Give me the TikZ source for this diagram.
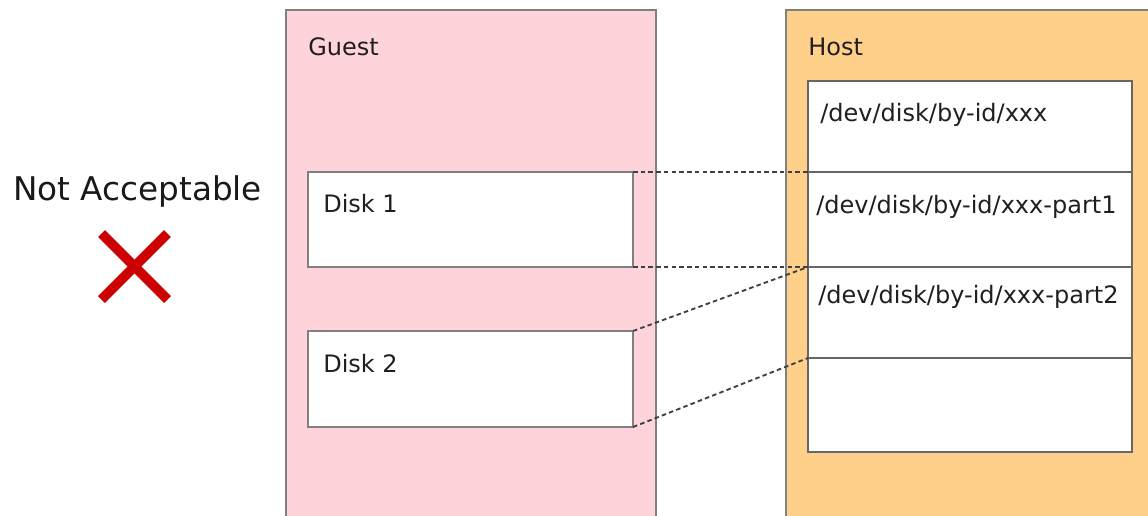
\documentclass[tikz,border=0pt]{standalone}
\usepackage{fontspec}
\setmainfont{DejaVu Sans}
\definecolor{guestpink}{RGB}{255,211,218}
\definecolor{hostorange}{RGB}{255,208,138}
\definecolor{xred}{RGB}{204,0,0}
\definecolor{edgegray}{RGB}{128,128,128}
\begin{document}
\begin{tikzpicture}[x=0.75pt,y=-0.75pt,
  area/.style={draw=edgegray, line width=0.9pt, inner sep=0pt, outer sep=0pt, anchor=north west},
  box/.style={draw=edgegray, line width=1.1pt, fill=white, inner sep=0pt, outer sep=0pt, anchor=north west},
  part/.style={box, draw=black!60, line width=1.4pt},
  lbl/.style={anchor=base west, inner sep=0pt, font=\fontsize{18}{21}\selectfont, text=black!88},
  link/.style={draw=black!75, dash pattern=on 3.4pt off 2.4pt, line width=1.4pt},
  cross/.style={draw=xred, line width=7.2pt}]
\useasboundingbox (0,0) rectangle (1148,515);
\clip (0,0) rectangle (1148,515);
% areas
\node[area, fill=guestpink, minimum width=277.5pt, minimum height=390pt] (guest) at (286,10) {};
\node[area, fill=hostorange, minimum width=288pt, minimum height=390pt] (host) at (786,10) {};
\node[lbl] (guestlbl) at (308,55) {Guest};
\node[lbl] (hostlbl) at (808,55) {Host};
% guest disks
\node[box, minimum width=243.75pt, minimum height=71.25pt] (d1) at (308,172) {};
\node[box, minimum width=243.75pt, minimum height=72pt] (d2) at (308,331) {};
\node[lbl] (d1lbl) at (323,212) {Disk 1};
\node[lbl] (d2lbl) at (323,372) {Disk 2};
% host partitions
\node[part, minimum width=243pt, minimum height=68.25pt] (p1) at (808,81) {};
\node[part, minimum width=243pt, minimum height=71.25pt] (p2) at (808,172) {};
\node[part, minimum width=243pt, minimum height=68.25pt] (p3) at (808,267) {};
\node[part, minimum width=243pt, minimum height=70.5pt] (p4) at (808,358) {};
\node[lbl] (p1lbl) at (820,121) {/dev/disk/by-id/xxx};
\node[lbl] (p2lbl) at (816,213) {/dev/disk/by-id/xxx-part1};
\node[lbl] (p3lbl) at (818,303) {/dev/disk/by-id/xxx-part2};
% links
\draw[link] (d1.north east) -- (p2.north west);
\draw[link] (d1.south east) -- (p3.north west);
\draw[link] (d2.north east) -- (p3.north west);
\draw[link] (d2.south east) -- (p4.north west);
% verdict
\node[anchor=base, inner sep=0pt, font=\fontsize{24.5}{28}\selectfont, text=black!90] (verdict) at (137.5,200) {Not Acceptable};
\coordinate (xc) at (134.5,266.5);
\draw[cross] ([shift={(-33,-33)}]xc) -- ([shift={(33,33)}]xc);
\draw[cross] ([shift={(33,-33)}]xc) -- ([shift={(-33,33)}]xc);
\end{tikzpicture}
\end{document}
